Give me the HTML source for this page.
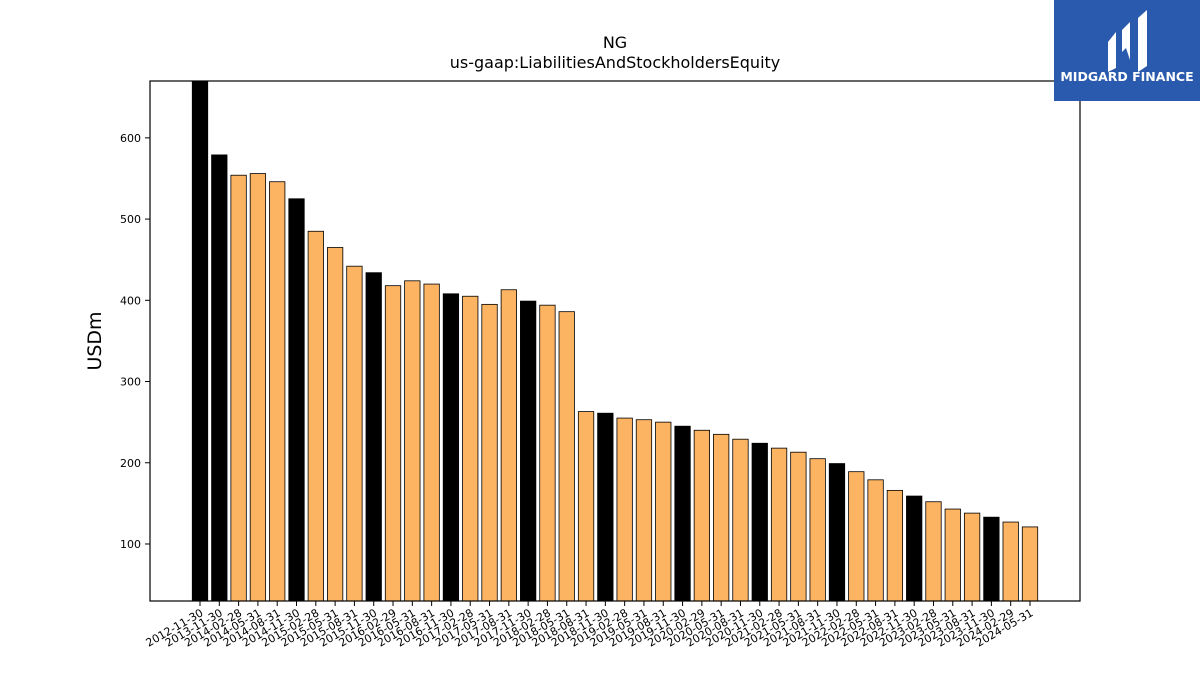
<!DOCTYPE html>
<html><head><meta charset="utf-8"><style>
html,body{margin:0;padding:0;background:#fff;width:1200px;height:675px;overflow:hidden}
text{font-family:"DejaVu Sans","Liberation Sans",sans-serif}
</style></head><body>
<svg id="chart" width="1200" height="675" xmlns="http://www.w3.org/2000/svg">
<text x="615" y="48" font-size="16" text-anchor="middle">NG</text>
<text x="615" y="68" font-size="16" text-anchor="middle">us-gaap:LiabilitiesAndStockholdersEquity</text>
<text transform="translate(101,341) rotate(-90)" font-size="19" text-anchor="middle">USDm</text>
<g id="bars"></g>
<g id="yaxis"></g>
<g id="xaxis"></g>
<rect x="150" y="81" width="930" height="520" fill="none" stroke="#000" stroke-width="1.2"/>
<g>
<rect x="1054" y="0" width="146" height="101" fill="#2a5aad"/>
<path d="M1108 42 L1116 32 L1116 68 L1108 72 Z" fill="#fff"/>
<path d="M1122 30 L1130 22 L1130 60 L1126 48 L1122 52 Z" fill="#fff"/>
<path d="M1138 18 L1147 10 L1147 66 L1138 72 Z" fill="#fff"/>
<text x="1127" y="81" font-size="12.5" font-weight="bold" fill="#fff" text-anchor="middle">MIDGARD FINANCE</text>
</g>
</svg>
<script>
const categories=["2012-11-30","2013-11-30","2014-02-28","2014-05-31","2014-08-31","2014-11-30","2015-02-28","2015-05-31","2015-08-31","2015-11-30","2016-02-29","2016-05-31","2016-08-31","2016-11-30","2017-02-28","2017-05-31","2017-08-31","2017-11-30","2018-02-28","2018-05-31","2018-08-31","2018-11-30","2019-02-28","2019-05-31","2019-08-31","2019-11-30","2020-02-29","2020-05-31","2020-08-31","2020-11-30","2021-02-28","2021-05-31","2021-08-31","2021-11-30","2022-02-28","2022-05-31","2022-08-31","2022-11-30","2023-02-28","2023-05-31","2023-08-31","2023-11-30","2024-02-29","2024-05-31"];
const values=[700,579,554,556,546,525,485,465,442,434,418,424,420,408,405,395,413,399,394,386,263,261,255,253,250,245,240,235,229,224,218,213,205,199,189,179,166,159,152,143,138,133,127,121];
const yTicks=[100,200,300,400,500,600];
const ns="http://www.w3.org/2000/svg";
const X0=150,X1=1080,Y0=81,Y1=601,vMin=29.8,vMax=670;
const n=categories.length;
const first=200,last=1030,step=(last-first)/(n-1);
const xs=i=>first+i*step;
const ys=v=>Y1-(Math.min(v,vMax)-vMin)/(vMax-vMin)*(Y1-Y0);
const bars=document.getElementById('bars'),xa=document.getElementById('xaxis'),ya=document.getElementById('yaxis');
categories.forEach((c,i)=>{
  const r=document.createElementNS(ns,'rect');
  const bw=step*0.8,x=xs(i)-bw/2,y=ys(values[i]);
  r.setAttribute('x',x);r.setAttribute('y',y);r.setAttribute('width',bw);r.setAttribute('height',Y1-y);
  r.setAttribute('fill',c.endsWith('11-30')?'#000':'#fdb462');
  r.setAttribute('stroke','#000');r.setAttribute('stroke-width','0.8');
  
  
  bars.appendChild(r);
  const t=document.createElementNS(ns,'line');
  t.setAttribute('x1',xs(i));t.setAttribute('x2',xs(i));t.setAttribute('y1',Y1);t.setAttribute('y2',Y1+5);t.setAttribute('stroke','#000');
  
  
  xa.appendChild(t);
  const l=document.createElementNS(ns,'text');
  l.setAttribute('transform',`translate(${xs(i)+4},${Y1+14}) rotate(-30)`);
  l.setAttribute('text-anchor','end');l.setAttribute('font-size','11');
  l.textContent=c;
  
  
  xa.appendChild(l);
});
yTicks.forEach(v=>{
  const y=ys(v);
  const t=document.createElementNS(ns,'line');
  t.setAttribute('x1',X0-5);t.setAttribute('x2',X0);t.setAttribute('y1',y);t.setAttribute('y2',y);t.setAttribute('stroke','#000');
  
  
  ya.appendChild(t);
  const l=document.createElementNS(ns,'text');
  l.setAttribute('x',X0-9);l.setAttribute('y',y+4);l.setAttribute('text-anchor','end');l.setAttribute('font-size','11');
  l.textContent=v;
  
  
  ya.appendChild(l);
});
</script>
</body></html>
